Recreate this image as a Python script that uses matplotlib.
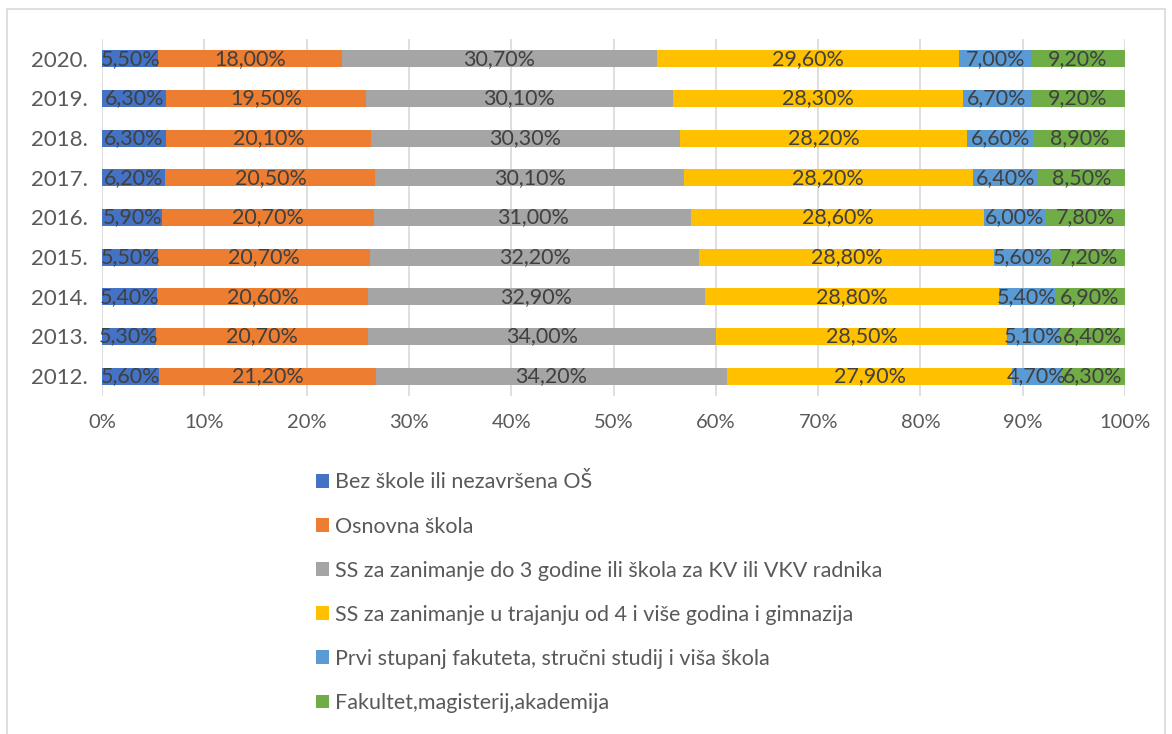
import matplotlib.pyplot as plt
from matplotlib.patches import Rectangle
import numpy as np

plt.rcParams['font.family'] = ['Lato', 'DejaVu Sans']

years = ['2012.', '2013.', '2014.', '2015.', '2016.', '2017.', '2018.', '2019.', '2020.']
categories = [
    'Bez škole ili nezavršena OŠ',
    'Osnovna škola',
    'SS za zanimanje do 3 godine ili škola za KV ili VKV radnika',
    'SS za zanimanje u trajanju od 4 i više godina i gimnazija',
    'Prvi stupanj fakuteta, stručni studij i viša škola',
    'Fakultet,magisterij,akademija',
]
bez_skole = [5.6, 5.3, 5.4, 5.5, 5.9, 6.2, 6.3, 6.3, 5.5]
osnovna = [21.2, 20.7, 20.6, 20.7, 20.7, 20.5, 20.1, 19.5, 18.0]
ss_3 = [34.2, 34.0, 32.9, 32.2, 31.0, 30.1, 30.3, 30.1, 30.7]
ss_4 = [27.9, 28.5, 28.8, 28.8, 28.6, 28.2, 28.2, 28.3, 29.6]
prvi_stupanj = [4.7, 5.1, 5.4, 5.6, 6.0, 6.4, 6.6, 6.7, 7.0]
fakultet = [6.3, 6.4, 6.9, 7.2, 7.8, 8.5, 8.9, 9.2, 9.2]

series = [bez_skole, osnovna, ss_3, ss_4, prvi_stupanj, fakultet]
colors = ['#4472c4', '#ed7d31', '#a5a5a5', '#ffc000', '#5b9bd5', '#70ad47']

data = np.array(series, dtype=float)
shares = data / data.sum(axis=0) * 100

fig = plt.figure(figsize=(11.72, 7.34), dpi=100)
ax = fig.add_axes([0.087, 0.4605, 0.873, 0.4865])

y = np.arange(len(years))
left = np.zeros(len(years))
for vals, raw, name, col in zip(shares, series, categories, colors):
    bars = ax.barh(y, vals, left=left, height=0.43, color=col, label=name, zorder=2)
    labels = [f'{v:.2f}%'.replace('.', ',') for v in raw]
    ax.bar_label(bars, labels=labels, label_type='center', fontsize=15.5, color='#404040')
    left += vals

ax.set_xlim(0, 100)
ax.set_ylim(-0.5, len(years) - 0.5)
ax.set_yticks(y)
ax.set_yticklabels(years)
ax.set_xticks(np.arange(0, 101, 10))
ax.set_xticklabels([f'{t}%' for t in range(0, 101, 10)])
ax.tick_params(axis='both', length=0, colors='#595959')
ax.tick_params(axis='x', pad=13, labelsize=14.5)
ax.tick_params(axis='y', pad=10, labelsize=16)
ax.grid(axis='x', color='#d9d9d9', linewidth=1.2, zorder=0)
for s in ax.spines.values():
    s.set_visible(False)

fig.legend(loc='upper left', bbox_to_anchor=(0.262, 0.368), ncol=1, frameon=False,
           fontsize=15.5, labelcolor='#595959', handlelength=0.62, handleheight=0.62,
           handletextpad=0.3, labelspacing=1.12, borderaxespad=0)

fig.add_artist(Rectangle((0.006, -0.05), 0.988, 1.038, transform=fig.transFigure,
                         fill=False, edgecolor='#d9d9d9', linewidth=1.2))

fig.savefig('out.png', dpi=100)
